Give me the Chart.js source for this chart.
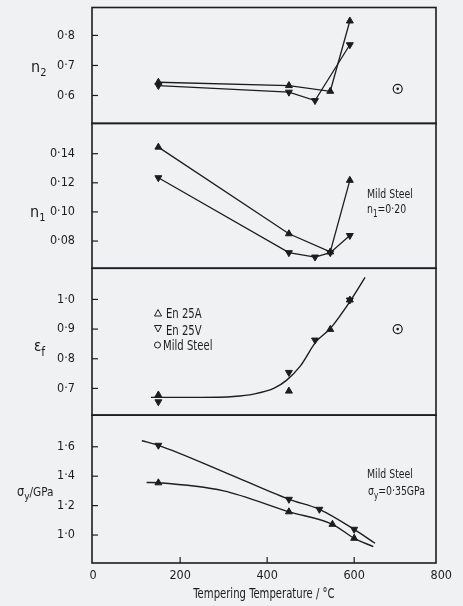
<!DOCTYPE html>
<html>
<head>
<meta charset="utf-8">
<script src="https://cdn.jsdelivr.net/npm/chart.js@4.4.0/dist/chart.umd.min.js"></script>
<style>
  html, body { margin: 0; padding: 0; background: #f0f1f3; }
  #chart { display: block; }
</style>
</head>
<body>
<canvas id="chart" width="463" height="606"></canvas>
<script>
var FONT = "'Liberation Sans Narrow', 'DejaVu Sans Condensed', 'Liberation Sans', sans-serif";
var INK = '#1d1d1f';
var SQUEEZE = 0.8; // the scan uses a narrow lettering

var xTicks = [0, 200, 400, 600, 800];

// n2 panel
var n2Ticks = [0.6, 0.7, 0.8];
var n2TempA = [150, 450, 545, 590];
var n2EnA = [0.644, 0.633, 0.614, 0.848];
var n2TempV = [150, 450, 510, 590];
var n2EnV = [0.633, 0.611, 0.583, 0.769];
var mildTemp = [700];
var n2Mild = [0.622];

// n1 panel
var n1Ticks = [0.08, 0.10, 0.12, 0.14];
var n1TempA = [150, 450, 545, 590];
var n1EnA = [0.1445, 0.085, 0.0725, 0.1217];
var n1TempV = [150, 450, 510, 545, 590];
var n1EnV = [0.1235, 0.072, 0.069, 0.072, 0.0838];

// strain to fracture panel
var efTicks = [0.7, 0.8, 0.9, 1.0];
var efTempA = [150, 450, 545, 590];
var efEnA = [0.678, 0.691, 0.899, 0.998];
var efTempV = [150, 450, 510, 590];
var efEnV = [0.655, 0.754, 0.863, 0.998];
var efMild = [0.90];
var efFitTemp = [133, 246, 323, 369, 415, 445, 476, 512, 545, 592, 625];
var efFit = [0.670, 0.670, 0.673, 0.681, 0.700, 0.728, 0.775, 0.857, 0.902, 0.997, 1.074];

// yield stress panel
var syTicks = [1.0, 1.2, 1.4, 1.6];
var syTempA = [150, 450, 550, 600];
var syEnA = [1.355, 1.158, 1.073, 0.978];
var syTempV = [150, 450, 520, 600];
var syEnV = [1.61, 1.243, 1.175, 1.039];
var syFitTempA = [123, 150, 300, 450, 550, 600, 644];
var syFitA = [1.357, 1.355, 1.30, 1.158, 1.073, 0.978, 0.921];
var syFitTempV = [112, 150, 300, 450, 520, 600, 648];
var syFitV = [1.641, 1.61, 1.43, 1.243, 1.175, 1.039, 0.944];

function pts(xs, ys) {
    return xs.map(function (x, i) { return {x: x, y: ys[i]}; });
}

function marks(xs, ys, yId, up, line) {
    return {
        data: pts(xs, ys), yAxisID: yId, showLine: line,
        borderColor: INK, backgroundColor: INK, borderWidth: 1.3,
        pointStyle: 'triangle', pointRotation: up ? 0 : 180,
        pointRadius: 4, pointBorderWidth: 1, pointBackgroundColor: INK, pointBorderColor: INK
    };
}

function fit(xs, ys, yId) {
    return {
        data: pts(xs, ys), yAxisID: yId, showLine: true, pointRadius: 0,
        borderColor: INK, borderWidth: 1.4, cubicInterpolationMode: 'monotone'
    };
}

function mild(ys, yId) {
    return [{
        data: pts(mildTemp, ys), yAxisID: yId, pointStyle: 'circle', pointRadius: 4.5,
        pointBorderWidth: 1.2, pointBorderColor: INK, pointBackgroundColor: 'rgba(0,0,0,0)'
    }, {
        data: pts(mildTemp, ys), yAxisID: yId, pointStyle: 'circle', pointRadius: 1.3,
        pointBorderWidth: 0, pointBackgroundColor: INK
    }];
}

function yScale(ticks, min, max, weight, dec) {
    return {
        type: 'linear', position: 'left', stack: 'panels', stackWeight: weight,
        min: min, max: max,
        // tick marks are drawn inside the frame by the plugin; tickLength only spaces the labels
        grid: {display: false, drawTicks: true, tickLength: 17},
        border: {display: false},
        afterBuildTicks: function (s) {
            s.ticks = ticks.map(function (v) { return {value: v}; });
        },
        afterFit: function (s) { s.width = 92; },
        ticks: {
            padding: 0, color: INK, font: {family: FONT, size: 12.5},
            callback: function (v) { return v.toFixed(dec).replace('.', '\u00b7'); }
        }
    };
}

// draws text pieces one after another, [text, size, dy], squeezed by sx
function sub(ctx, parts, x, y, sx) {
    sx = sx || 1;
    parts.forEach(function (p) {
        ctx.save();
        ctx.font = p[1] + 'px ' + FONT;
        ctx.translate(x, y + p[2]);
        ctx.scale(sx, 1);
        ctx.fillText(p[0], 0, 0);
        x += ctx.measureText(p[0]).width * sx;
        ctx.restore();
    });
    return x;
}

var panelFrames = {
    id: 'panelFrames',
    afterDatasetsDraw: function (chart) {
        var ctx = chart.ctx, a = chart.chartArea;
        ctx.save();
        ctx.strokeStyle = INK;
        ['yN2', 'yN1', 'yEf', 'ySy'].forEach(function (id) {
            var s = chart.scales[id];
            ctx.lineWidth = 1.6;
            ctx.strokeRect(a.left, s.top, a.right - a.left, s.bottom - s.top);
            ctx.lineWidth = 1.2;
            s.ticks.forEach(function (t) {
                var y = s.getPixelForValue(t.value);
                ctx.beginPath(); ctx.moveTo(a.left, y); ctx.lineTo(a.left + 6, y); ctx.stroke();
            });
        });
        var xs = chart.scales.x;
        xs.ticks.forEach(function (t) {
            if (t.value <= 0 || t.value >= 800) return;
            var x = xs.getPixelForValue(t.value);
            ctx.beginPath(); ctx.moveTo(x, a.bottom); ctx.lineTo(x, a.bottom - 6); ctx.stroke();
        });
        ctx.restore();
    },
    afterDraw: function (chart) {
        var ctx = chart.ctx, a = chart.chartArea;
        ctx.save();
        ctx.fillStyle = INK;
        ctx.strokeStyle = INK;
        ctx.textAlign = 'left';
        ctx.textBaseline = 'alphabetic';
        // axis names
        sub(ctx, [['n', 16, 0], ['2', 11, 4]], 31, 72);
        sub(ctx, [['n', 16, 0], ['1', 11, 4]], 30, 217);
        sub(ctx, [['\u03b5', 15, 0], ['f', 12, 5]], 34, 351);
        sub(ctx, [['\u03c3', 14, 0], ['y', 11, 4], ['/GPa', 13, 0]], 17, 496, 0.9);
        // x title, centred under the axis
        ctx.font = '14px ' + FONT;
        var tw = ctx.measureText('Tempering Temperature / \u00b0C').width * SQUEEZE;
        sub(ctx, [['Tempering Temperature / \u00b0C', 14, 0]], (a.left + a.right) / 2 - tw / 2, 598, SQUEEZE);
        // notes
        sub(ctx, [['Mild Steel', 13, 0]], 367, 198, SQUEEZE);
        sub(ctx, [['n', 13, 0], ['1', 10, 4], ['=0\u00b720', 13, 0]], 367, 213, SQUEEZE);
        sub(ctx, [['Mild Steel', 13, 0]], 367, 478, SQUEEZE);
        sub(ctx, [['\u03c3', 13, 0], ['y', 10, 4], ['=0\u00b735GPa', 13, 0]], 368, 495, SQUEEZE);
        // legend
        ctx.lineWidth = 1;
        ctx.beginPath();
        ctx.moveTo(158, 309.5); ctx.lineTo(161.5, 316); ctx.lineTo(154.5, 316); ctx.closePath();
        ctx.stroke();
        ctx.beginPath();
        ctx.moveTo(154.5, 325.5); ctx.lineTo(161.5, 325.5); ctx.lineTo(158, 332); ctx.closePath();
        ctx.stroke();
        ctx.beginPath();
        ctx.arc(157.5, 345, 3, 0, Math.PI * 2);
        ctx.stroke();
        sub(ctx, [['En 25A', 14, 0]], 166, 318, SQUEEZE);
        sub(ctx, [['En 25V', 14, 0]], 166, 335, SQUEEZE);
        sub(ctx, [['Mild Steel', 14, 0]], 163, 350, SQUEEZE);
        ctx.restore();
    }
};

var datasets = [
    marks(n2TempA, n2EnA, 'yN2', true, true),
    marks(n2TempV, n2EnV, 'yN2', false, true),
    marks(n1TempA, n1EnA, 'yN1', true, true),
    marks(n1TempV, n1EnV, 'yN1', false, true),
    fit(efFitTemp, efFit, 'yEf'),
    marks(efTempA, efEnA, 'yEf', true, false),
    marks(efTempV, efEnV, 'yEf', false, false),
    fit(syFitTempA, syFitA, 'ySy'),
    fit(syFitTempV, syFitV, 'ySy'),
    marks(syTempA, syEnA, 'ySy', true, false),
    marks(syTempV, syEnV, 'ySy', false, false)
].concat(mild(n2Mild, 'yN2'), mild(efMild, 'yEf'));

new Chart(document.getElementById('chart').getContext('2d'), {
    type: 'scatter',
    data: {datasets: datasets},
    options: {
        responsive: false,
        animation: false,
        layout: {padding: {top: 7, right: 27, left: 0, bottom: 0}},
        plugins: {legend: {display: false}, tooltip: {enabled: false}},
        scales: {
            x: {
                type: 'linear', position: 'bottom', min: -2.5, max: 788,
                grid: {display: false, drawTicks: false},
                border: {display: false},
                afterBuildTicks: function (s) {
                    s.ticks = xTicks.map(function (v) { return {value: v}; });
                },
                afterFit: function (s) { s.height = 43; },
                ticks: {padding: 5, color: INK, font: {family: FONT, size: 12.5}}
            },
            ySy: yScale(syTicks, 0.81, 1.815, 148, 1),
            yEf: yScale(efTicks, 0.61, 1.105, 147, 1),
            yN1: yScale(n1Ticks, 0.0613, 0.1608, 145, 2),
            yN2: yScale(n2Ticks, 0.507, 0.893, 116, 1)
        }
    },
    plugins: [panelFrames]
});
</script>
</body>
</html>
